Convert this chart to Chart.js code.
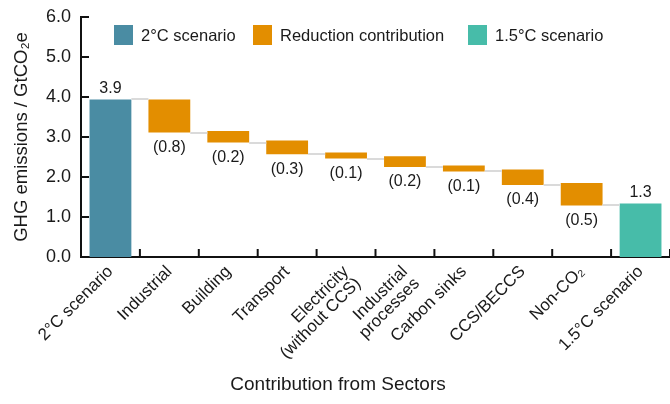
<!DOCTYPE html>
<html>
<head>
<meta charset="utf-8">
<script src="https://cdn.jsdelivr.net/npm/chart.js@4.4.0/dist/chart.umd.min.js"></script>
<style>
html,body{margin:0;padding:0;background:#fff;}
#wrap{width:670px;height:404px;position:relative;}
</style>
</head>
<body>
<div id="wrap"><canvas id="c" width="670" height="404"></canvas></div>
<script>
// ---- data ----
const categories = ["2°C scenario", "Industrial", "Building", "Transport", ["Electricity", "(without CCS)"], ["Industrial", "processes"], "Carbon sinks", "CCS/BECCS", "Non-CO₂", "1.5°C scenario"];
const barHigh = [3.94, 3.94, 3.15, 2.91, 2.61, 2.52, 2.29, 2.19, 1.85, 1.34];
const barLow  = [0,    3.11, 2.86, 2.57, 2.46, 2.25, 2.14, 1.80, 1.29, 0];
const valueLabels = ["3.9", "(0.8)", "(0.2)", "(0.3)", "(0.1)", "(0.2)", "(0.1)", "(0.4)", "(0.5)", "1.3"];
const seriesNames = ["2°C scenario", "Reduction contribution", "1.5°C scenario"];
const yTicks = [0, 1, 2, 3, 4, 5, 6];
const yTitle = "GHG emissions / GtCO₂e";
const xTitle = "Contribution from Sectors";

const colors = ["#4a8ca3", "#e38e00", "#47bca9"];
const FONT = "'Liberation Sans', Arial, sans-serif";

const n = categories.length;
const ds0 = categories.map((_, i) => i === 0 ? [barLow[i], barHigh[i]] : null);
const ds1 = categories.map((_, i) => (i > 0 && i < n - 1) ? [barLow[i], barHigh[i]] : null);
const ds2 = categories.map((_, i) => i === n - 1 ? [barLow[i], barHigh[i]] : null);

const common = { grouped: false, barPercentage: 0.71, categoryPercentage: 1.0, borderWidth: 0 };

const decor = {
  id: 'decor',
  afterDatasetsDraw(chart) {
    const ctx = chart.ctx;
    const x = chart.scales.x, y = chart.scales.y;
    const area = chart.chartArea;
    const catW = (x.getPixelForValue(1) - x.getPixelForValue(0));
    const barW = catW * 0.71;
    ctx.save();
    // connectors
    ctx.strokeStyle = "#dadada";
    ctx.lineWidth = 2;
    for (let i = 0; i < n - 1; i++) {
      const level = i === 0 ? barHigh[0] : barLow[i];
      const py = Math.round(y.getPixelForValue(level));
      const x1 = x.getPixelForValue(i) + barW / 2;
      const x2 = x.getPixelForValue(i + 1) - barW / 2;
      ctx.beginPath(); ctx.moveTo(x1, py); ctx.lineTo(x2, py); ctx.stroke();
    }
    // value labels
    ctx.fillStyle = "#1a1a1a";
    ctx.font = "16px " + FONT;
    ctx.textAlign = "center";
    ctx.textBaseline = "middle";
    for (let i = 0; i < n; i++) {
      const cx = x.getPixelForValue(i);
      if (i === 0 || i === n - 1) {
        ctx.fillText(valueLabels[i], cx, y.getPixelForValue(barHigh[i]) - 11);
      } else {
        ctx.fillText(valueLabels[i], cx, y.getPixelForValue(barLow[i]) + 15);
      }
    }
    // inward ticks
    ctx.strokeStyle = "#111";
    ctx.lineWidth = 2;
    yTicks.forEach(v => {
      const py = y.getPixelForValue(v);
      ctx.beginPath(); ctx.moveTo(area.left, py); ctx.lineTo(area.left + 8, py); ctx.stroke();
    });
    for (let i = 0; i < n; i++) {
      const px = x.getPixelForValue(i) + catW / 2;
      ctx.beginPath(); ctx.moveTo(px, area.bottom); ctx.lineTo(px, area.bottom - 8); ctx.stroke();
    }
    // legend
    const lx = [114, 253, 468];
    ctx.font = "16.5px " + FONT;
    ctx.textAlign = "left";
    ctx.textBaseline = "middle";
    seriesNames.forEach((name, k) => {
      ctx.fillStyle = colors[k];
      ctx.fillRect(lx[k], 25, 19, 20);
      ctx.fillStyle = "#1a1a1a";
      ctx.fillText(name, lx[k] + 27, 36);
    });
    // x title
    ctx.font = "19px " + FONT;
    ctx.textAlign = "center";
    ctx.fillText(xTitle, 338, 385);
    ctx.restore();
  }
};

new Chart(document.getElementById('c'), {
  type: 'bar',
  data: {
    labels: categories,
    datasets: [
      Object.assign({ label: seriesNames[0], data: ds0, backgroundColor: colors[0] }, common),
      Object.assign({ label: seriesNames[1], data: ds1, backgroundColor: colors[1] }, common),
      Object.assign({ label: seriesNames[2], data: ds2, backgroundColor: colors[2] }, common)
    ]
  },
  options: {
    responsive: false,
    animation: false,
    layout: { padding: { top: 17, right: 0, left: 0, bottom: 0 } },
    plugins: { legend: { display: false }, tooltip: { enabled: false } },
    scales: {
      x: {
        grid: { display: false, drawTicks: false },
        border: { display: true, color: "#111", width: 2 },
        ticks: {
          color: "#1a1a1a", font: { family: FONT, size: 17, lineHeight: 1.0 },
          minRotation: 45, maxRotation: 45, padding: 6, autoSkip: false
        },
        afterFit(s) { s.height = 147; s.paddingLeft = 0; s.paddingRight = 0; }
      },
      y: {
        min: 0, max: 6,
        grid: { display: false, drawTicks: false },
        border: { display: true, color: "#111", width: 2 },
        ticks: {
          stepSize: 1, color: "#1a1a1a", font: { family: FONT, size: 18 }, padding: 10,
          callback: v => v.toFixed(1)
        },
        title: { display: true, text: yTitle, color: "#1a1a1a", font: { family: FONT, size: 18.5 }, padding: { top: 11, bottom: 0 } },
        afterFit(s) { s.width = 81; s.paddingTop = 0; s.paddingBottom = 0; }
      }
    }
  },
  plugins: [decor]
});
</script>
</body>
</html>
